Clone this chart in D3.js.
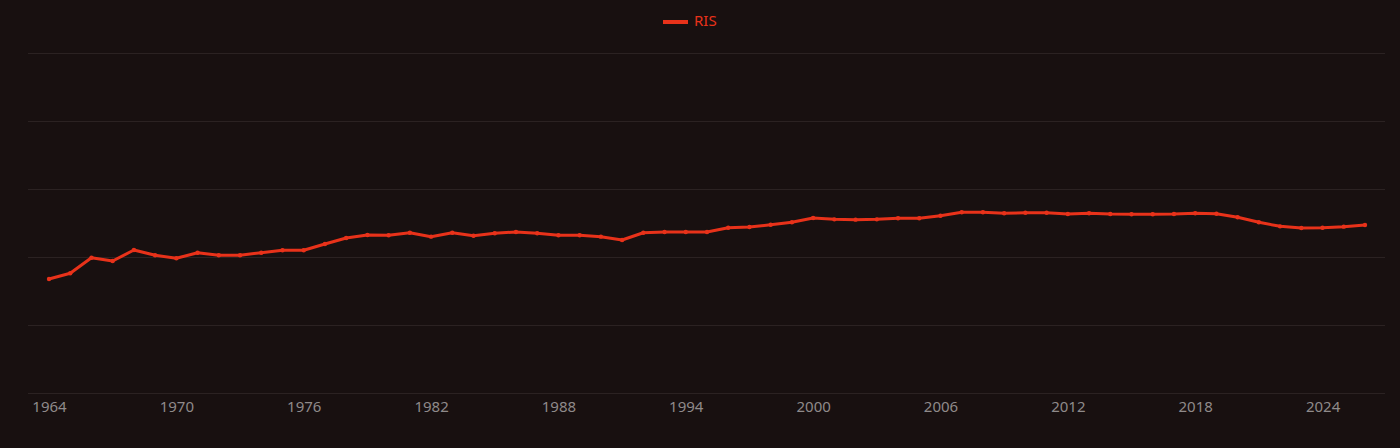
<!DOCTYPE html>
<html>
<head>
<meta charset="utf-8">
<script src="https://cdn.jsdelivr.net/npm/d3@7/dist/d3.min.js"></script>
<style>
  html, body { margin: 0; padding: 0; background: #181010; }
  svg { display: block; }
</style>
</head>
<body>
<svg id="chart" width="1400" height="448"></svg>
<script>
const seriesName = "RIS";
const years = d3.range(1964, 2027);
const values = [
  16.76, 17.60, 19.90, 19.41, 21.03, 20.25, 19.81, 20.63, 20.25, 20.25,
  20.63, 20.99, 20.99, 21.91, 22.79, 23.24, 23.19, 23.57, 22.99, 23.57,
  23.13, 23.49, 23.68, 23.49, 23.19, 23.19, 22.99, 22.50, 23.57, 23.68,
  23.68, 23.68, 24.31, 24.41, 24.75, 25.10, 25.74, 25.54, 25.49, 25.54,
  25.69, 25.69, 26.07, 26.57, 26.57, 26.43, 26.51, 26.51, 26.32, 26.43,
  26.32, 26.28, 26.28, 26.32, 26.43, 26.37, 25.84, 25.10, 24.51, 24.26,
  24.31, 24.46, 24.71
];
const yTicks = [0, 10, 20, 30, 40, 50];
const xTickYears = [1964, 1970, 1976, 1982, 1988, 1994, 2000, 2006, 2012, 2018, 2024];

const lineColor = "#e8321a";
const svg = d3.select("#chart");

const gridLeft = 28, gridRight = 1385;
const x = d3.scaleLinear().domain([1964, 2026]).range([49, 1365]);
const y = d3.scaleLinear().domain([0, 50]).range([393, 53]);

// gridlines
svg.append("g").selectAll("line").data(yTicks).join("line")
  .attr("x1", gridLeft).attr("x2", gridRight)
  .attr("y1", d => y(d) + 0.5).attr("y2", d => y(d) + 0.5)
  .attr("stroke", "#2b2222").attr("stroke-width", 1);

// x axis labels
const xAxis = d3.axisBottom(x).tickValues(xTickYears).tickFormat(d3.format("d")).tickSize(0).tickPadding(8);
const gx = svg.append("g").attr("transform", `translate(0,${y(0)})`).call(xAxis);
gx.select(".domain").remove();
gx.selectAll("text")
  .attr("fill", "#8f8a8a")
  .style("font-family", "'Noto Sans', sans-serif")
  .style("font-size", "15px");

// line
const data = years.map((yr, i) => ({ yr, v: values[i] }));
const line = d3.line().x(d => x(d.yr)).y(d => y(d.v));
svg.append("path").datum(data)
  .attr("d", line)
  .attr("fill", "none")
  .attr("stroke", lineColor)
  .attr("stroke-width", 3)
  .attr("stroke-linejoin", "round");

svg.append("g").selectAll("circle").data(data).join("circle")
  .attr("cx", d => x(d.yr)).attr("cy", d => y(d.v))
  .attr("r", 2.2)
  .attr("fill", lineColor);

// legend
const lg = svg.append("g").attr("transform", "translate(663,22)");
lg.append("line").attr("x1", 0).attr("x2", 25).attr("y1", 0).attr("y2", 0)
  .attr("stroke", lineColor).attr("stroke-width", 4);
lg.append("text").attr("x", 31).attr("y", -1).attr("dy", "0.35em")
  .attr("fill", lineColor)
  .style("font-family", "'Noto Sans', sans-serif")
  .style("font-size", "15px")
  .text(seriesName);
</script>
</body>
</html>
